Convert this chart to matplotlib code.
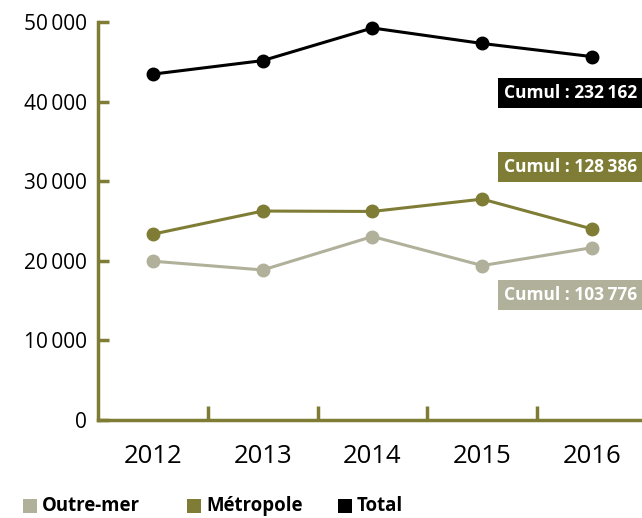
import matplotlib
matplotlib.use("Agg")
import matplotlib.pyplot as plt
from matplotlib.patches import Rectangle
from matplotlib.ticker import FixedLocator, FuncFormatter

years = ["2012", "2013", "2014", "2015", "2016"]
outre_mer = [19950, 18850, 23050, 19400, 21650]
metropole = [23350, 26250, 26200, 27750, 24000]
total = [43450, 45150, 49250, 47300, 45650]

series_names = ["Outre-mer", "Métropole", "Total"]
cumul_labels = ["Cumul : 103\u2009776", "Cumul : 128\u2009386", "Cumul : 232\u2009162"]
colors = ["#b1b19b", "#7f7d35", "#000000"]
axis_color = "#7f7d35"

plt.rcParams["font.family"] = ["Open Sans", "DejaVu Sans"]

W, H = 642, 518
fig = plt.figure(figsize=(6.42, 5.18), dpi=100)
ax = fig.add_axes([98 / W, 1 - 420 / H, 1 - 98 / W, (420 - 22) / H])

x = list(range(len(years)))
for vals, col in zip([outre_mer, metropole, total], colors):
    ax.plot(x, vals, color=col, lw=2.2, marker="o", ms=9, clip_on=False, zorder=3)

ax.set_xlim(-0.5, 4.455)
ax.set_ylim(0, 50000)

for side in ["top", "right"]:
    ax.spines[side].set_visible(False)
for side in ["left", "bottom"]:
    ax.spines[side].set_color(axis_color)
    ax.spines[side].set_linewidth(2.5)

ax.set_yticks(range(0, 50001, 10000))
ax.yaxis.set_major_formatter(FuncFormatter(
    lambda v, p: f"{int(v):,}".replace(",", "\u2009")))
ax.tick_params(axis="y", direction="in", length=8, width=2.5, color=axis_color,
               labelsize=15, pad=8)

ax.set_xticks(x)
ax.set_xticklabels(years)
ax.tick_params(axis="x", which="major", length=0, labelsize=18.5, pad=17)
ax.xaxis.set_minor_locator(FixedLocator([0.5, 1.5, 2.5, 3.5]))
ax.tick_params(axis="x", which="minor", direction="in", length=10, width=2.5,
               color=axis_color)

# cumul boxes (top pixel row of each box)
box_top = [280, 152, 78]
for lab, col, yy in zip(cumul_labels, colors, box_top):
    fig.patches.append(Rectangle((498 / W, 1 - (yy + 30) / H), 144 / W, 30 / H,
                                 transform=fig.transFigure, fc=col, ec="none"))
    fig.text(571 / W, 1 - (yy + 15) / H, lab, ha="center", va="center",
             fontsize=12.5, fontweight="bold", color="white")

# legend
leg_x = [23, 187, 338]
for name, col, lx in zip(series_names, colors, leg_x):
    fig.patches.append(Rectangle((lx / W, 1 - 513 / H), 14 / W, 14 / H,
                                 transform=fig.transFigure, fc=col, ec="none"))
    fig.text((lx + 19) / W, 1 - 506 / H, name, ha="left", va="center",
             fontsize=13.4, fontweight="bold")

fig.savefig("out.png", dpi=100)
